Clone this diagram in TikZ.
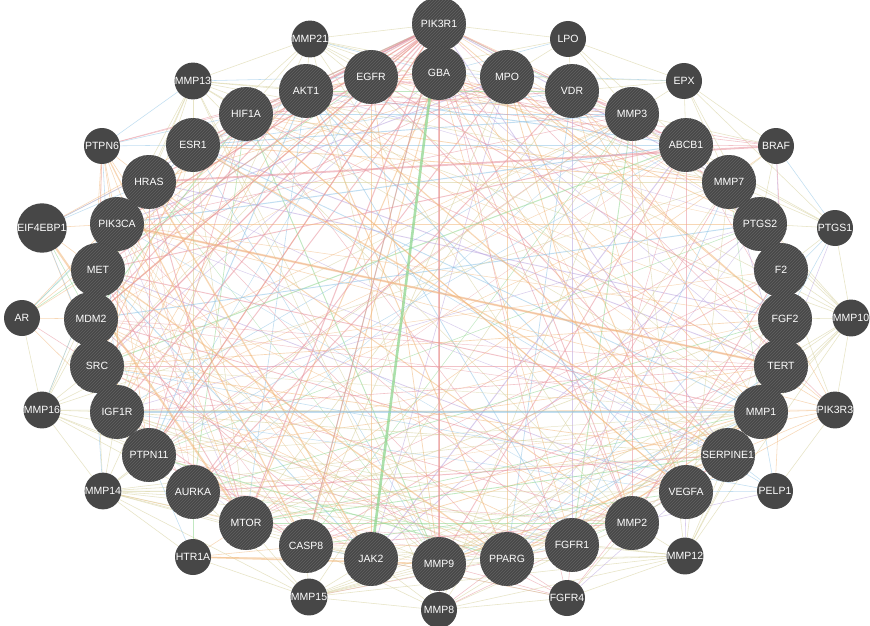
\documentclass[tikz,border=0pt]{standalone}
\usepackage{fontspec}
\setmainfont{Liberation Sans}
\usetikzlibrary{patterns}
\pgfdeclarelayer{bg}
\pgfsetlayers{bg,main}
\definecolor{ngray}{HTML}{474747}
\definecolor{nstripe}{HTML}{626262}
\definecolor{cpink}{HTML}{E8919C}
\definecolor{corange}{HTML}{F2B77A}
\definecolor{ctan}{HTML}{D4CE96}
\definecolor{cblue}{HTML}{8FC4E6}
\definecolor{cgreen}{HTML}{8FD68F}
\definecolor{cpurple}{HTML}{B9A3DE}
\tikzset{
  big/.style={circle, minimum size=54pt, inner sep=0pt, fill=ngray,
    postaction={pattern=north east lines, pattern color=nstripe},
    text=white, font=\fontsize{10.5}{12}\selectfont},
  small/.style={circle, minimum size=36pt, inner sep=0pt, fill=ngray,
    text=white, font=\fontsize{10.5}{12}\selectfont},
  ebase/.style={line width=0.55pt, opacity=0.55},
  ep/.style={ebase, draw=cpink},
  eo/.style={ebase, draw=corange},
  et/.style={ebase, draw=ctan},
  eb/.style={ebase, draw=cblue},
  eg/.style={ebase, draw=cgreen},
  eu/.style={ebase, draw=cpurple},
  e1/.style={ep}, e2/.style={ep}, e3/.style={eo}, e4/.style={eo},
  e5/.style={eo}, e6/.style={ep}, e7/.style={et}, e8/.style={eb},
  e9/.style={eg}, e10/.style={eu},
}
\def\innerlist{PIK3R1,EGFR,GBA,MPO,AKT1,VDR,HIF1A,MMP3,ESR1,ABCB1,HRAS,MMP7,PIK3CA,PTGS2,MET,F2,MDM2,FGF2,SRC,TERT,IGF1R,MMP1,PTPN11,SERPINE1,AURKA,VEGFA,MTOR,MMP2,CASP8,FGFR1,JAK2,PPARG,MMP9}
\begin{document}
\begin{tikzpicture}[x=1pt,y=-1pt]
\useasboundingbox (0,0) rectangle (870,626);
% large nodes
\node[big] (PIK3R1) at (439,24) {PIK3R1};
\node[big] (EGFR) at (371,77) {EGFR};
\node[big] (GBA) at (439,73) {GBA};
\node[big] (MPO) at (507,77) {MPO};
\node[big] (AKT1) at (306,91) {AKT1};
\node[big] (VDR) at (572,91) {VDR};
\node[big] (HIF1A) at (246,114) {HIF1A};
\node[big] (MMP3) at (632,114) {MMP3};
\node[big] (ESR1) at (193,145) {ESR1};
\node[big] (ABCB1) at (686,145) {ABCB1};
\node[big] (HRAS) at (149,182) {HRAS};
\node[big] (MMP7) at (729,182) {MMP7};
\node[big] (PIK3CA) at (117,224) {PIK3CA};
\node[big] (PTGS2) at (760,224) {PTGS2};
\node[big] (MET) at (98,270) {MET};
\node[big] (F2) at (781,270) {F2};
\node[big] (MDM2) at (91,319) {MDM2};
\node[big] (FGF2) at (785,319) {FGF2};
\node[big] (SRC) at (97,366) {SRC};
\node[big] (TERT) at (781,366) {TERT};
\node[big] (IGF1R) at (117,412) {IGF1R};
\node[big] (MMP1) at (761,412) {MMP1};
\node[big] (PTPN11) at (149,455) {PTPN11};
\node[big] (SERPINE1) at (728,455) {SERPINE1};
\node[big] (AURKA) at (193,492) {AURKA};
\node[big] (VEGFA) at (686,492) {VEGFA};
\node[big] (MTOR) at (246,523) {MTOR};
\node[big] (MMP2) at (632,523) {MMP2};
\node[big] (CASP8) at (306,546) {CASP8};
\node[big] (FGFR1) at (572,545) {FGFR1};
\node[big] (JAK2) at (371,559) {JAK2};
\node[big] (PPARG) at (507,559) {PPARG};
\node[big] (MMP9) at (439,564) {MMP9};
% small nodes
\node[small] (MMP21) at (310,39) {MMP21};
\node[small] (LPO) at (568,39) {LPO};
\node[small] (MMP13) at (193,81) {MMP13};
\node[small] (EPX) at (684,81) {EPX};
\node[small] (PTPN6) at (102,146) {PTPN6};
\node[small] (BRAF) at (776,146) {BRAF};
\node[small] (EIF4EBP1) at (42,228) {EIF4EBP1};
\node[small] (PTGS1) at (835,228) {PTGS1};
\node[small] (AR) at (22,318) {AR};
\node[small] (MMP10) at (851,318) {MMP10};
\node[small] (MMP16) at (42,410) {MMP16};
\node[small] (PIK3R3) at (835,410) {PIK3R3};
\node[small] (MMP14) at (103,491) {MMP14};
\node[small] (PELP1) at (775,491) {PELP1};
\node[small] (HTR1A) at (193,557) {HTR1A};
\node[small] (MMP12) at (685,556) {MMP12};
\node[small] (MMP15) at (309,597) {MMP15};
\node[small] (FGFR4) at (567,598) {FGFR4};
\node[small] (MMP8) at (439,610) {MMP8};

\begin{pgfonlayer}{bg}
\fill[white] (0,0) rectangle (870,626);
% dense inner web
\pgfmathsetseed{4242}
\foreach \na [count=\ni] in \innerlist {
  \foreach \nb [count=\nj] in \innerlist {
    \ifnum\nj>\ni\relax
      \pgfmathsetmacro{\rv}{rnd}
      \ifdim\rv pt<0.48pt
        \pgfmathrandominteger{\ecol}{1}{10}
        \pgfmathsetmacro{\wv}{0.3+0.7*rnd}
        \draw[e\ecol, line width=\wv pt] (\na) -- (\nb);
      \fi
    \fi
  }
}
% outer nodes
\foreach \t/\s in {AKT1/t,HIF1A/t,EGFR/t,MMP13/t,PIK3R1/t,GBA/b,MPO/t,MMP3/t,MMP7/t,MMP1/t,MMP2/t,MMP9/t,ESR1/t,MMP10/t,MMP14/t} \draw[e\s] (MMP21) -- (\t);
\foreach \t/\s in {AKT1/t,HIF1A/t,ESR1/t,HRAS/t,EGFR/b,MMP1/t,MMP2/t,MMP3/t,MMP9/t,MMP7/t,PTPN6/b,SRC/t,PIK3CA/t,MMP16/t,MMP8/t} \draw[e\s] (MMP13) -- (\t);
\foreach \t/\s in {HRAS/o,PIK3CA/o,ESR1/b,MET/o,SRC/p,PTPN11/o,MDM2/o,IGF1R/b,EGFR/p,JAK2/o,HIF1A/b,AKT1/p,MTOR/o} \draw[e\s] (PTPN6) -- (\t);
\foreach \t/\s in {PIK3CA/o,MET/o,AKT1/p,HRAS/b,SRC/o,MDM2/g,IGF1R/b,PIK3R1/b,ESR1/o} \draw[e\s] (EIF4EBP1) -- (\t);
\foreach \t/\s in {MDM2/o,SRC/p,MET/o,PIK3CA/g,IGF1R/o,ESR1/b,AKT1/o,MMP16/t,HRAS/o,EGFR/g} \draw[e\s] (AR) -- (\t);
\foreach \t/\s in {SRC/t,IGF1R/t,MDM2/t,PTPN11/t,MMP14/t,MMP1/t,MMP2/t,MMP9/t,MMP3/t,MMP7/t,AURKA/t,MET/t,PIK3CA/b} \draw[e\s] (MMP16) -- (\t);
\foreach \t/\s in {IGF1R/t,PTPN11/t,AURKA/t,MTOR/o,SRC/t,MMP2/t,MMP9/t,MMP1/t,MMP3/t,VEGFA/t,HTR1A/t,CASP8/t,MMP15/t,MMP12/t,JAK2/t,SERPINE1/t,MDM2/b} \draw[e\s] (MMP14) -- (\t);
\foreach \t/\s in {AURKA/g,MTOR/o,CASP8/o,JAK2/o,PTPN11/b,MMP15/t} \draw[e\s] (HTR1A) -- (\t);
\foreach \t/\s in {CASP8/t,JAK2/t,MTOR/t,MMP9/t,MMP2/t,MMP1/t,MMP8/t,PPARG/p,FGFR1/t,AURKA/t,MMP12/t,VEGFA/t,MMP3/t,SERPINE1/t} \draw[e\s] (MMP15) -- (\t);
\foreach \t/\s in {MMP9/p,JAK2/t,PPARG/p,CASP8/t,MMP1/t,MMP2/t,FGFR4/t,MMP3/t,MMP7/t,FGFR1/p,MMP12/t} \draw[e\s] (MMP8) -- (\t);
\foreach \t/\s in {FGFR1/p,PPARG/p,MMP9/p,FGF2/p,MMP2/t,VEGFA/u,JAK2/p,SRC/p,PIK3R1/p,CASP8/t,MMP12/t} \draw[e\s] (FGFR4) -- (\t);
\foreach \t/\s in {MMP2/t,VEGFA/u,FGFR1/t,SERPINE1/t,MMP9/t,MMP1/t,MMP3/t,MMP7/t,PPARG/t,TERT/t,MMP10/t} \draw[e\s] (MMP12) -- (\t);
\foreach \t/\s in {SERPINE1/b,VEGFA/b,MMP1/b,ESR1/b,SRC/b,TERT/o,MMP2/u,PIK3R3/t} \draw[e\s] (PELP1) -- (\t);
\foreach \t/\s in {MMP1/o,TERT/o,SERPINE1/o,FGF2/o,PIK3CA/o,PIK3R1/p,AKT1/o,MTOR/o,IGF1R/o,F2/t,VEGFA/o,MMP10/t} \draw[e\s] (PIK3R3) -- (\t);
\foreach \t/\s in {FGF2/t,TERT/t,F2/t,PTGS2/t,MMP1/t,MMP3/t,MMP7/t,MMP2/t,MMP9/t,SERPINE1/t,PTGS1/t,MMP13/t} \draw[e\s] (MMP10) -- (\t);
\foreach \t/\s in {PTGS2/t,F2/t,FGF2/b,MMP7/t,ABCB1/t,BRAF/b,PPARG/b,VDR/t,EPX/t,TERT/u} \draw[e\s] (PTGS1) -- (\t);
\foreach \t/\s in {ABCB1/p,MMP7/t,PTGS2/t,EGFR/p,AKT1/p,MTOR/o,F2/u,EPX/t,MMP3/t,FGF2/p} \draw[e\s] (BRAF) -- (\t);
\foreach \t/\s in {LPO/t,MPO/t,VDR/t,MMP3/t,ABCB1/t,MMP7/t,PTGS2/t,GBA/b} \draw[e\s] (EPX) -- (\t);
\foreach \t/\s in {MPO/t,VDR/t,GBA/b,PIK3R1/t,MMP3/t,EGFR/t,ABCB1/t} \draw[e\s] (LPO) -- (\t);
% PIK3R1 red fan
\foreach \t in {HRAS,ESR1,HIF1A,AKT1,PIK3CA,MET,SRC,EGFR,MDM2,IGF1R,PTPN11,MTOR,ABCB1,MMP9,CASP8}
  \draw[ep, line width=1.1pt] (PIK3R1) -- (\t);
% emphasised connectors
\draw[ep, line width=1.8pt] (HRAS) -- (BRAF);
\draw[eg, line width=2.6pt, opacity=0.75] (PIK3R1) -- (JAK2);
\draw[eo, line width=2pt] (PIK3CA) -- (TERT);
\draw[eo, line width=2pt] (EIF4EBP1) -- (MTOR);
\draw[eo, line width=1.6pt] (HTR1A) -- (MMP9);
\draw[eo, line width=1.4pt] (HRAS) -- (JAK2);
\draw[eo, line width=1.3pt] (MET) -- (PPARG);
\draw[eo, line width=1.3pt] (ESR1) -- (SERPINE1);
\draw[eo, line width=1.2pt] (PTPN6) -- (CASP8);
\draw[eb, line width=1.1pt] (IGF1R) -- (MMP1);
\draw[eo, line width=1.2pt] (SERPINE1) -- (AKT1);
\draw[eo, line width=1.2pt] (VEGFA) -- (HIF1A);
\end{pgfonlayer}
\end{tikzpicture}
\end{document}
